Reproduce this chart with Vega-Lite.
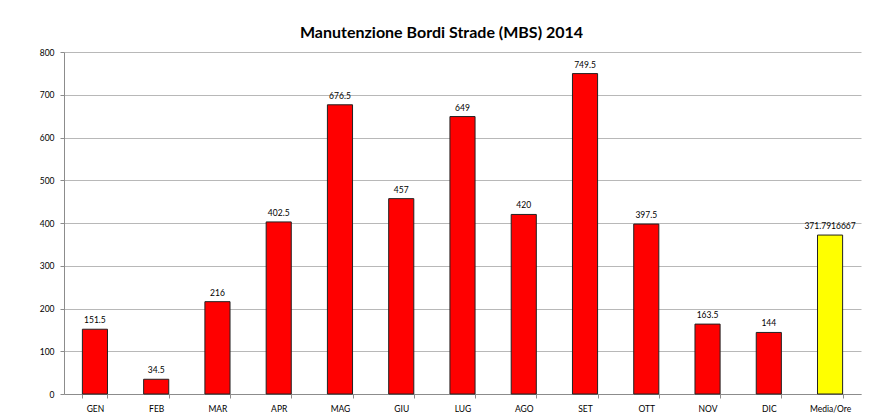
{
  "$schema": "https://vega.github.io/schema/vega-lite/v6.json",
  "width": 797,
  "height": 342,
  "autosize": {"type": "none"},
  "padding": {"left": 64, "top": 52, "right": 11, "bottom": 20},
  "background": "white",
  "title": {"text": "Manutenzione Bordi Strade (MBS) 2014", "font": "Lato", "fontSize": 16, "fontWeight": "bold", "color": "black", "offset": 7, "anchor": "middle", "frame": "group", "dx": -21},
  "data": {"values": [
    {"mese": "GEN", "ore": 151.5, "tipo": "mese"},
    {"mese": "FEB", "ore": 34.5, "tipo": "mese"},
    {"mese": "MAR", "ore": 216, "tipo": "mese"},
    {"mese": "APR", "ore": 402.5, "tipo": "mese"},
    {"mese": "MAG", "ore": 676.5, "tipo": "mese"},
    {"mese": "GIU", "ore": 457, "tipo": "mese"},
    {"mese": "LUG", "ore": 649, "tipo": "mese"},
    {"mese": "AGO", "ore": 420, "tipo": "mese"},
    {"mese": "SET", "ore": 749.5, "tipo": "mese"},
    {"mese": "OTT", "ore": 397.5, "tipo": "mese"},
    {"mese": "NOV", "ore": 163.5, "tipo": "mese"},
    {"mese": "DIC", "ore": 144, "tipo": "mese"},
    {"mese": "Media/Ore", "ore": 371.7916667, "tipo": "media"}
  ]},
  "encoding": {
    "x": {"field": "mese", "type": "nominal", "sort": null,
      "scale": {"paddingInner": 0.59, "paddingOuter": 0.3},
      "axis": {"title": null, "labelAngle": 0, "labelFont": "Lato", "labelFontSize": 8.5, "labelColor": "black", "domainColor": "#8c8c8c", "tickColor": "#8c8c8c", "tickBand": "extent", "tickSize": 4, "labelPadding": 6}},
    "y": {"field": "ore", "type": "quantitative",
      "scale": {"domain": [0, 800]},
      "axis": {"title": null, "values": [0,100,200,300,400,500,600,700,800], "labelFont": "Lato", "labelFontSize": 8.5, "labelColor": "black", "domainColor": "#8c8c8c", "tickColor": "#8c8c8c", "tickSize": 4, "gridColor": "#b8b8b8", "labelPadding": 6}}
  },
  "layer": [
    {"mark": {"type": "bar", "stroke": "#222222", "strokeWidth": 1},
     "encoding": {"color": {"field": "tipo", "type": "nominal", "scale": {"domain": ["mese", "media"], "range": ["#ff0000", "#ffff00"]}, "legend": null}}},
    {"mark": {"type": "text", "dy": -9, "font": "Lato", "fontSize": 8.5, "color": "black"},
     "encoding": {"text": {"field": "ore", "type": "nominal"}}}
  ],
  "config": {"view": {"stroke": null}}
}
